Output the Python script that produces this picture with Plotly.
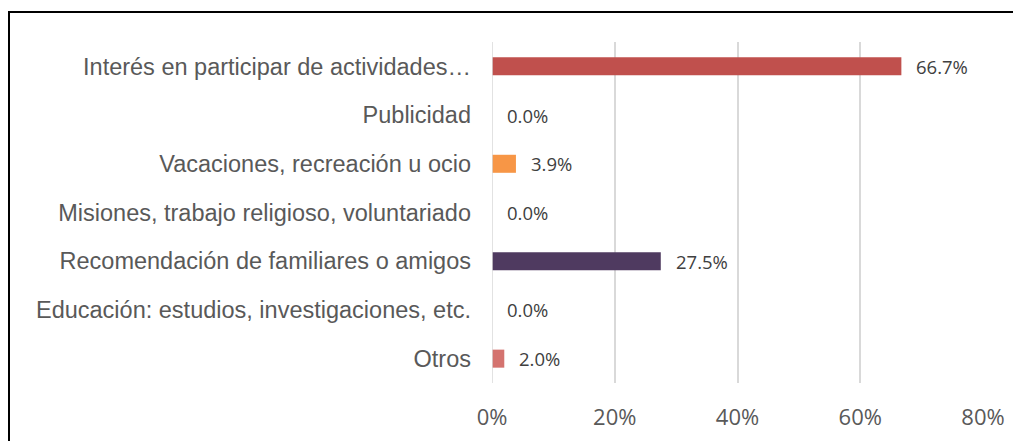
import plotly.graph_objects as go

categories = [
    "Interés en participar de actividades…",
    "Publicidad",
    "Vacaciones, recreación u ocio",
    "Misiones, trabajo religioso, voluntariado",
    "Recomendación de familiares o amigos",
    "Educación: estudios, investigaciones, etc.",
    "Otros",
]
values = [0.667, 0.0, 0.039, 0.0, 0.275, 0.0, 0.020]
colors = ["#C0504D", "#4BACC6", "#F79646", "#8064A2", "#4F3A60", "#9BBB59", "#D4736F"]
tick_vals = [0, 0.2, 0.4, 0.6, 0.8]
tick_text = ["0%", "20%", "40%", "60%", "80%"]

fig = go.Figure()
fig.add_trace(go.Bar(
    y=categories, x=values, orientation="h",
    marker=dict(color=colors, line=dict(width=0)),
    width=0.37, hoverinfo="skip",
))

for c, v in zip(categories, values):
    fig.add_annotation(
        x=v, y=c, xref="x", yref="y", text=f"{v*100:.1f}%",
        showarrow=False, xanchor="left", xshift=13,
        font=dict(family="Open Sans", size=18.5, color="#404040"),
    )

# outer border (chart area frame)
fig.add_shape(type="rect", xref="paper", yref="paper",
              x0=-0.9837, x1=1.2, y0=-0.3, y1=1.088,
              line=dict(color="#000000", width=2), fillcolor="rgba(0,0,0,0)")

fig.update_layout(
    width=1021, height=441,
    margin=dict(l=484, r=46, t=34, b=66),
    paper_bgcolor="white", plot_bgcolor="white",
    showlegend=False,
    xaxis=dict(range=[0, 0.8], tickvals=tick_vals, ticktext=tick_text,
               showgrid=True, gridcolor="#D9D9D9", gridwidth=1.5,
               zeroline=False, showline=False, ticks="",
               tickfont=dict(family="Open Sans", size=22, color="#595959"),
               ticklabelstandoff=19),
    yaxis=dict(categoryorder="array", categoryarray=categories,
               autorange="reversed", showgrid=False, zeroline=False,
               showline=False, ticks="",
               tickfont=dict(family="Liberation Sans", size=23.5, color="#595959"),
               ticklabelstandoff=20),
)
fig.add_vline(x=0, line=dict(color="#D9D9D9", width=1.5))

fig.write_html("out.html")
